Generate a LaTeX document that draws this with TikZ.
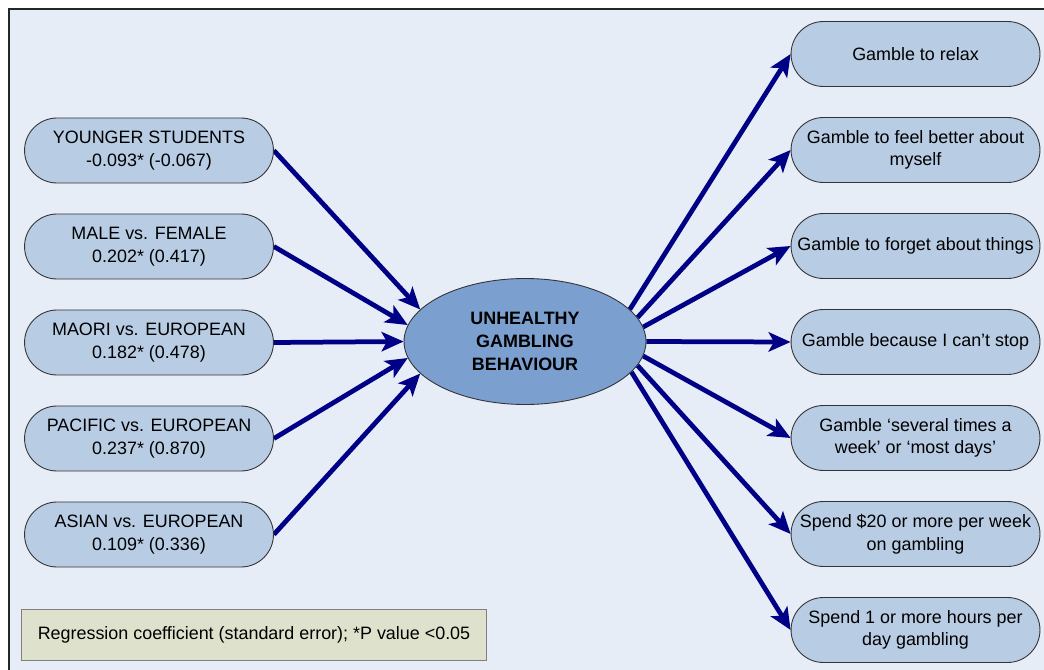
\documentclass[tikz,border=0pt]{standalone}
\usepackage{fontspec}
\setmainfont{Liberation Sans}
\usepackage{tikz}
\usetikzlibrary{positioning,backgrounds,arrows.meta,shapes.misc,shapes.geometric}
\pgfdeclarelayer{background}
\pgfsetlayers{background,main}
\definecolor{panelblue}{RGB}{230,237,247}
\definecolor{pillblue}{RGB}{184,204,228}
\definecolor{coreblue}{RGB}{123,159,207}
\definecolor{arrownavy}{RGB}{0,0,135}
\definecolor{notegreen}{RGB}{222,226,204}

\begin{document}
\begin{tikzpicture}[
  x=0.02cm, y=-0.02cm,
  every node/.style={font=\fontsize{10.2}{12.9}\selectfont},
  pill/.style={draw=black!80, fill=pillblue, line width=0.5pt,
    rounded rectangle, align=center, inner sep=2pt,
    minimum width=5.12cm, minimum height=1.3cm},
  core/.style={draw=black!80, fill=coreblue, line width=0.5pt,
    ellipse, align=center, inner sep=0pt,
    minimum width=4.84cm, minimum height=2.52cm,
    font=\fontsize{10.2}{12.9}\selectfont\bfseries},
  note/.style={draw=black!50, fill=notegreen, line width=0.6pt,
    align=center, inner sep=0pt,
    minimum width=9.32cm, minimum height=1.02cm},
  arr/.style={-{Stealth[length=12.5pt,width=11pt,inset=3pt]},
    line width=0.095cm, draw=arrownavy},
]
\useasboundingbox (0,0) rectangle (1044,669);
\clip (0,0) rectangle (1044,669);

\node[core] at (525,341.5) (ugb) {UNHEALTHY\\GAMBLING\\BEHAVIOUR};

\node[pill] at (149,150.5) (young)   {YOUNGER STUDENTS\\-0.093* (-0.067)};
\node[pill] at (149,246.5) (male)    {MALE vs. FEMALE\\0.202* (0.417)};
\node[pill] at (149,342.5) (maori)   {MAORI vs. EUROPEAN\\0.182* (0.478)};
\node[pill] at (149,438.5) (pacific) {PACIFIC vs. EUROPEAN\\0.237* (0.870)};
\node[pill] at (149,534.5) (asian)   {ASIAN vs. EUROPEAN\\0.109* (0.336)};

\node[pill] at (915.5, 54) (relax)    {Gamble to relax};
\node[pill] at (915.5,150) (better)   {Gamble to feel better about\\myself};
\node[pill] at (915.5,246) (forget)   {Gamble to forget about things};
\node[pill] at (915.5,342) (cantstop) {Gamble because I can’t stop};
\node[pill] at (915.5,438) (often)    {Gamble ‘several times a\\week’ or ‘most days’};
\node[pill] at (915.5,534) (spend)    {Spend \$20 or more per week\\on gambling};
\node[pill] at (915.5,630) (hours)    {Spend 1 or more hours per\\day gambling};

\node[note] at (254,635) (legend) {Regression coefficient (standard error); *P value <0.05};

\begin{pgfonlayer}{background}
\draw[line width=0.05cm, draw=black!85, fill=panelblue] (9,9) rectangle (1070,700);
\draw[arr] (young.east)   -- (ugb.163);
\draw[arr] (male.east)    -- (ugb.172);
\draw[arr] (maori.east)   -- (ugb.180);
\draw[arr] (pacific.east) -- (ugb.188);
\draw[arr] (asian.east)   -- (ugb.197);
\draw[arr] (ugb.17)  -- (relax.west);
\draw[arr] (ugb.12)  -- (better.west);
\draw[arr] (ugb.7)   -- (forget.west);
\draw[arr] (ugb.0)   -- (cantstop.west);
\draw[arr] (ugb.-7)  -- (often.west);
\draw[arr] (ugb.-12) -- (spend.west);
\draw[arr] (ugb.-16) -- (hours.west);
\end{pgfonlayer}
\end{tikzpicture}
\end{document}
